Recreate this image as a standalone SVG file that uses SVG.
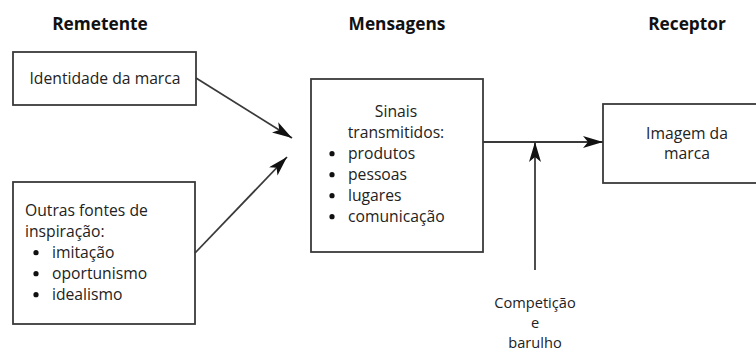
<svg xmlns="http://www.w3.org/2000/svg" width="756" height="353" viewBox="0 0 756 353">
<style>
text{font-family:"Open Sans","Noto Sans","Liberation Sans",sans-serif;font-size:15.7px;fill:#222}
.t{font-weight:bold;font-size:17.3px;fill:#111}
.c{text-anchor:middle}
.s{font-size:14.6px}
.box{fill:#fff;stroke:#3a3a3a;stroke-width:1.8}
.ln{fill:none;stroke:#3a3a3a;stroke-width:1.8}
.b{fill:#111}
</style>
<defs>
<marker id="ah" viewBox="0 0 20 12" refX="20" refY="6" markerWidth="20" markerHeight="12" markerUnits="userSpaceOnUse" orient="auto">
<path d="M0,0 L20,6 L0,12 L5,6 Z" fill="#111"/>
</marker>
</defs>
<rect width="756" height="353" fill="#fff"/>
<g id="titles">
<text class="t c" x="100" y="30">Remetente</text>
<text class="t c" x="397" y="30">Mensagens</text>
<text class="t c" x="687" y="30">Receptor</text>
</g>
<g id="identidade">
<rect class="box" x="13" y="52" width="183" height="53"/>
<text class="c" x="105" y="84">Identidade da marca</text>
</g>
<g id="outras">
<rect class="box" x="13" y="182" width="182" height="142"/>
<text x="25" y="216">Outras fontes de</text>
<text x="25" y="237">inspiração:</text>
<circle class="b" cx="36" cy="252.7" r="2.6"/><text x="52" y="258">imitação</text>
<circle class="b" cx="36" cy="273.7" r="2.6"/><text x="52" y="279">oportunismo</text>
<circle class="b" cx="36" cy="294.7" r="2.6"/><text x="52" y="300">idealismo</text>
</g>
<g id="sinais">
<rect class="box" x="311" y="79" width="172" height="173"/>
<text class="c" x="396" y="117">Sinais</text>
<text class="c" x="396" y="138">transmitidos:</text>
<circle class="b" cx="332" cy="153.7" r="2.6"/><text x="348" y="159">produtos</text>
<circle class="b" cx="332" cy="174.7" r="2.6"/><text x="348" y="180">pessoas</text>
<circle class="b" cx="332" cy="195.7" r="2.6"/><text x="348" y="201">lugares</text>
<circle class="b" cx="332" cy="216.7" r="2.6"/><text x="348" y="222">comunicação</text>
</g>
<g id="imagem">
<rect class="box" x="603" y="104" width="160" height="79"/>
<text class="c" x="687" y="139">Imagem da</text>
<text class="c" x="687" y="159">marca</text>
</g>
<g id="competicao">
<text class="c s" x="535" y="308">Competição</text>
<text class="c s" x="535" y="328">e</text>
<text class="c s" x="535" y="348">barulho</text>
</g>
<g id="connectors">
<line class="ln" x1="196" y1="78" x2="292" y2="138" marker-end="url(#ah)"/>
<line class="ln" x1="195" y1="253" x2="287" y2="157" marker-end="url(#ah)"/>
<line class="ln" x1="483" y1="142" x2="603" y2="142" marker-end="url(#ah)"/>
<line class="ln" x1="535" y1="270" x2="535" y2="142" marker-end="url(#ah)"/>
</g>
</svg>
